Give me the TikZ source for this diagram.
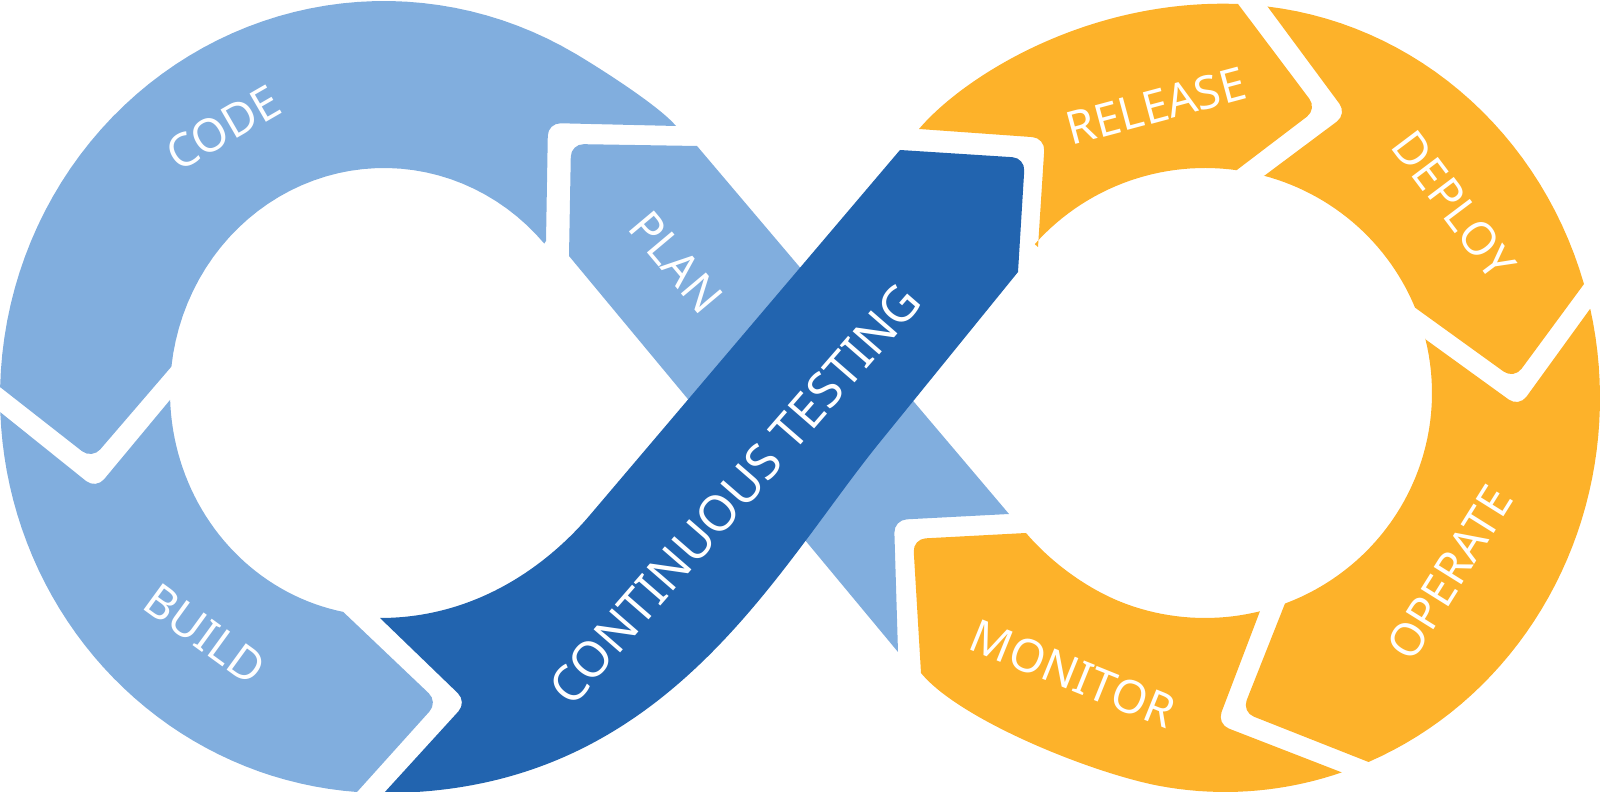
\documentclass[tikz,border=0pt]{standalone}
\usepackage{fontspec}
\setmainfont{Noto Sans}
\usepackage{tikz}
\usetikzlibrary{calc}
\definecolor{loopblue}{HTML}{81AEDE}
\definecolor{testblue}{HTML}{2264AF}
\definecolor{looporange}{HTML}{FDB22A}
\tikzset{
    devleft/.style={fill=loopblue},
    devtest/.style={fill=testblue},
    devright/.style={fill=looporange},
    devlabel/.style={text=white, inner sep=0pt, font=\fontsize{13}{15}\selectfont},
    roundat/.style n args={3}{insert path={-- ($(#2)!3.6pt!(#1)$) .. controls ($(#2)!1.6pt!(#1)$) and ($(#2)!1.6pt!(#3)$) .. ($(#2)!3.6pt!(#3)$)}}
}

\begin{document}
\begin{tikzpicture}[x=0.01cm, y=-0.01cm]
    \useasboundingbox (0,0) rectangle (1600,792);

    % left loop
    \coordinate (code-end) at (676,126);
    \coordinate (code-tip) at (548,123);
    \coordinate (code-in) at (546,241);
    \coordinate (code-inl) at (171,367);
    \coordinate (code-chev) at (92,459);
    \coordinate (code-out) at (0,387);
    \coordinate (build-out) at (0,412);
    \coordinate (build-chev) at (96,489);
    \coordinate (build-in) at (170,400);
    \coordinate (build-inr) at (343,612);
    \coordinate (build-tip) at (438,702);
    \coordinate (build-bot) at (357,792);
    \coordinate (plan-top) at (697,146);
    \coordinate (plan-tip) at (571,144);
    \coordinate (plan-left) at (569,256);
    \coordinate (plan-low) at (898,652);
    \coordinate (plan-notch) at (894,520);
    \coordinate (plan-right) at (1009,514);

    % testing band
    \coordinate (test-bot) at (384,793);
    \coordinate (test-mid) at (880,442);
    \coordinate (test-rt) at (1018,272);
    \coordinate (test-tip) at (1025,158);
    \coordinate (test-lt) at (900,150);
    \coordinate (test-low) at (590,515);
    \coordinate (test-in) at (380,618);
    \coordinate (test-notch) at (467,702);

    % right loop
    \coordinate (rel-out) at (919,129);
    \coordinate (rel-notch) at (1045,138);
    \coordinate (rel-in) at (1038,247);
    \coordinate (rel-head-in) at (1237,170);
    \coordinate (rel-tip) at (1317,109);
    \coordinate (rel-head-out) at (1238,4);
    \coordinate (dep-out) at (1267.5,6.5);
    \coordinate (dep-notch) at (1347,114);
    \coordinate (dep-in) at (1264,176);
    \coordinate (dep-head-in) at (1415,308);
    \coordinate (dep-tip) at (1514,379);
    \coordinate (dep-head-out) at (1584,284);
    \coordinate (op-in) at (1425,339);
    \coordinate (op-notch) at (1519,407);
    \coordinate (op-out) at (1590,309);
    \coordinate (op-head-out) at (1368.5,762);
    \coordinate (op-tip) at (1242,712);
    \coordinate (op-head-in) at (1285,603.5);
    \coordinate (mon-tail-out) at (1342,772.5);
    \coordinate (mon-head-out) at (921,673);
    \coordinate (mon-tip) at (913,539);
    \coordinate (mon-head-in) at (1026,533);
    \coordinate (mon-tail-in) at (1260,611);
    \coordinate (mon-notch) at (1217,724);

    % plan runs under the testing band
    \fill[devleft] (plan-top) [roundat={plan-top}{plan-tip}{plan-left}] -- (plan-left) -- (plan-low)
        [roundat={plan-low}{plan-notch}{plan-right}] -- (plan-right) -- cycle;
    \fill[devleft] (code-end) [roundat={code-end}{code-tip}{code-in}] -- (code-in)
        -- plot[domain=318.5:186.5, samples=40] ({384+214*cos(\x)},{392+224*sin(\x)})
        [roundat={code-inl}{code-chev}{code-out}] -- (code-out)
        -- plot[domain=181.4:300, samples=50] ({384+384*cos(\x)},{397+396*sin(\x)})
        .. controls (606,72) and (660,107) .. (code-end) -- cycle;
    \fill[devleft] (build-out) [roundat={build-out}{build-chev}{build-in}] -- (build-in)
        -- plot[domain=178:101, samples=40] ({384+214*cos(\x)},{392+224*sin(\x)})
        [roundat={build-inr}{build-tip}{build-bot}] -- (build-bot)
        -- plot[domain=94:177.8, samples=40] ({384+384*cos(\x)},{397+396*sin(\x)}) -- cycle;
    \fill[devtest] (test-bot) .. controls (664,793) and (773,574) .. (test-mid) -- (test-rt)
        [roundat={test-rt}{test-tip}{test-lt}] -- (test-lt) -- (test-low)
        .. controls (551,561) and (480,618) .. (test-in)
        [roundat={test-in}{test-notch}{test-bot}] -- cycle;

    % right loop
    \fill[devright] (rel-out) [roundat={rel-out}{rel-notch}{rel-in}] -- (rel-in)
        -- plot[domain=221.4:278, samples=30] ({1205+227*cos(\x)},{393+225*sin(\x)})
        [roundat={rel-head-in}{rel-tip}{rel-head-out}] -- (rel-head-out)
        .. controls (1088,-1.5) and (964,76) .. (rel-out) -- cycle;
    \fill[devright] (dep-out) [roundat={dep-out}{dep-notch}{dep-in}] -- (dep-in)
        -- plot[domain=285:337.7, samples=30] ({1205+227*cos(\x)},{393+225*sin(\x)})
        [roundat={dep-head-in}{dep-tip}{dep-head-out}] -- (dep-head-out)
        -- plot[domain=343.2:276.5, samples=30] ({1225+375*cos(\x)},{398+394*sin(\x)}) -- cycle;
    \fill[devright] (op-in) [roundat={op-in}{op-notch}{op-out}] -- (op-out)
        -- plot[domain=347:427.5, samples=40] ({1225+375*cos(\x)},{398+394*sin(\x)})
        [roundat={op-head-out}{op-tip}{op-head-in}] -- (op-head-in)
        -- plot[domain=429.3:346, samples=40] ({1205+227*cos(\x)},{393+225*sin(\x)}) -- cycle;
    \fill[devright] (mon-tail-out)
        -- plot[domain=71.8:100, samples=20] ({1225+375*cos(\x)},{398+394*sin(\x)})
        .. controls (1091,773) and (959,719.5) .. (mon-head-out)
        [roundat={mon-head-out}{mon-tip}{mon-head-in}] -- (mon-head-in)
        .. controls (1052,563.5) and (1090,591) .. (1127.4,604.4)
        -- plot[domain=110:76, samples=20] ({1205+227*cos(\x)},{393+225*sin(\x)})
        [roundat={mon-tail-in}{mon-notch}{mon-tail-out}] -- cycle;

    % labels
    \node[devlabel, rotate=30] (code-lbl) at (223,128) {CODE};
    \node[devlabel, rotate=-50] (plan-lbl) at (676,262) {PLAN};
    \node[devlabel, rotate=-36] (build-lbl) at (205,634) {BUILD};
    \node[devlabel, rotate=49, font=\fontsize{14}{16}\selectfont] (test-lbl) at (735,494) {CONTINUOUS TESTING};
    \node[devlabel, rotate=15] (rel-lbl) at (1156,106) {RELEASE};
    \node[devlabel, rotate=-53] (dep-lbl) at (1454,205) {DEPLOY};
    \node[devlabel, rotate=58] (op-lbl) at (1450,573) {OPERATE};
    \node[devlabel, rotate=-22] (mon-lbl) at (1073,674) {MONITOR};
\end{tikzpicture}
\end{document}
